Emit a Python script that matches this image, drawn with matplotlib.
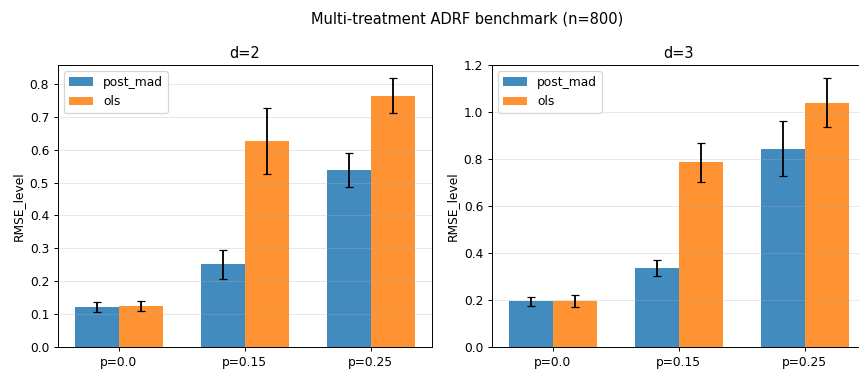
import matplotlib
matplotlib.use("Agg")
import matplotlib.pyplot as plt
import numpy as np

conditions = ["p=0.0", "p=0.15", "p=0.25"]
methods = ["post_mad", "ols"]

# d=2
d2_mean = {"post_mad": [0.121, 0.252, 0.538], "ols": [0.124, 0.625, 0.763]}
d2_err = {"post_mad": [0.015, 0.044, 0.052], "ols": [0.015, 0.100, 0.053]}
# d=3
d3_mean = {"post_mad": [0.195, 0.336, 0.845], "ols": [0.196, 0.786, 1.040]}
d3_err = {"post_mad": [0.020, 0.034, 0.115], "ols": [0.025, 0.082, 0.103]}

panels = [("d=2", d2_mean, d2_err), ("d=3", d3_mean, d3_err)]

dpi = 88
fig = plt.figure(figsize=(859 / dpi, 371 / dpi))
# axes boxes in figure fractions (right panel runs past the right edge, as in the reference crop)
ax1 = fig.add_axes([0.0672, 0.0639, 0.4357, 0.761])
ax2 = fig.add_axes([0.5724, 0.0639, 0.4357, 0.761])

x = np.arange(len(conditions))
width = 0.35
for ax, (title, means, errs) in zip([ax1, ax2], panels):
    for i, m in enumerate(methods):
        ax.bar(x + (i - 0.5) * width, means[m], width, yerr=errs[m],
               capsize=3, alpha=0.85, label=m, color=f"C{i}")
    ax.set_xticks(x)
    ax.set_xticklabels(conditions)
    ax.set_ylabel("RMSE_level")
    ax.set_title(title)
    ax.grid(axis="y", alpha=0.3)
    ax.legend(loc="upper left")

fig.suptitle("Multi-treatment ADRF benchmark (n=800)", x=0.5437, y=0.970)
fig.savefig("out.png", dpi=dpi)
